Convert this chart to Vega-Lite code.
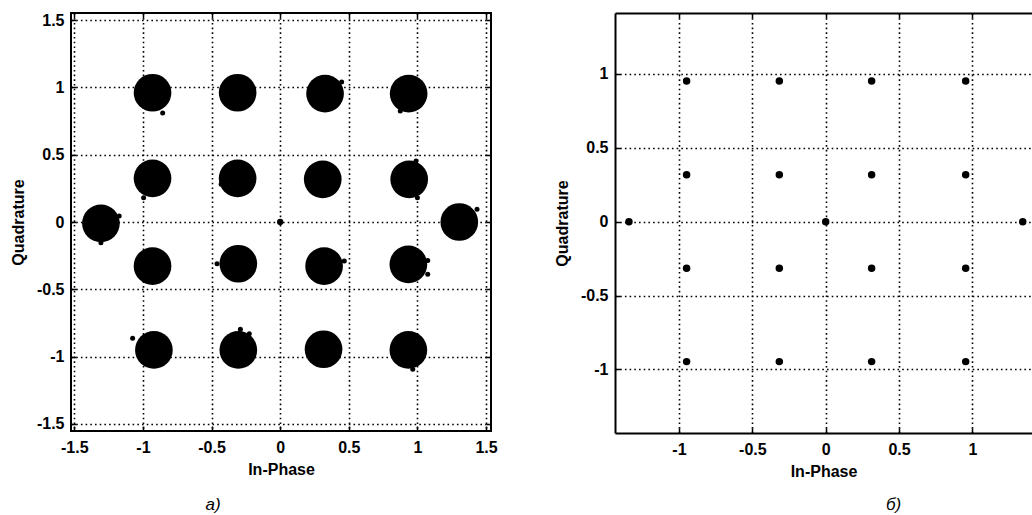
{
  "$schema": "https://vega.github.io/schema/vega-lite/v6.json",
  "padding": {"left": 9, "top": 11, "right": 0, "bottom": 0},
  "background": "white",
  "spacing": 55,
  "datasets": {
    "clusters": [
      {"i": -0.93, "q": 0.96}, {"i": -0.31, "q": 0.96}, {"i": 0.327, "q": 0.953}, {"i": 0.936, "q": 0.953},
      {"i": -0.93, "q": 0.324}, {"i": -0.31, "q": 0.324}, {"i": 0.31, "q": 0.317}, {"i": 0.94, "q": 0.317},
      {"i": -1.306, "q": -0.01}, {"i": 1.305, "q": 0.0},
      {"i": -0.93, "q": -0.327}, {"i": -0.305, "q": -0.31}, {"i": 0.32, "q": -0.327}, {"i": 0.934, "q": -0.315},
      {"i": -0.92, "q": -0.95}, {"i": -0.305, "q": -0.95}, {"i": 0.316, "q": -0.945}, {"i": 0.934, "q": -0.95}
    ],
    "strays": [
      {"i": -0.856, "q": 0.81}, {"i": 0.448, "q": 1.04}, {"i": 0.875, "q": 0.824},
      {"i": 0.99, "q": 0.453}, {"i": 1.0, "q": 0.18}, {"i": -0.995, "q": 0.18}, {"i": -0.43, "q": 0.28},
      {"i": -1.173, "q": 0.045}, {"i": -1.306, "q": -0.154}, {"i": 1.434, "q": 0.094},
      {"i": -0.46, "q": -0.31}, {"i": 1.075, "q": -0.388}, {"i": 1.075, "q": -0.285}, {"i": 0.467, "q": -0.29},
      {"i": -1.075, "q": -0.864}, {"i": -0.225, "q": -0.829}, {"i": -0.29, "q": -0.797}, {"i": 0.966, "q": -1.094}
    ],
    "centre": [
      {"i": 0.0, "q": 0.0}
    ],
    "ideal": [
      {"i": -0.948, "q": 0.952}, {"i": -0.316, "q": 0.952}, {"i": 0.313, "q": 0.952}, {"i": 0.954, "q": 0.952},
      {"i": -0.948, "q": 0.318}, {"i": -0.316, "q": 0.318}, {"i": 0.313, "q": 0.318}, {"i": 0.954, "q": 0.318},
      {"i": -0.948, "q": -0.315}, {"i": -0.316, "q": -0.315}, {"i": 0.313, "q": -0.315}, {"i": 0.954, "q": -0.315},
      {"i": -0.948, "q": -0.947}, {"i": -0.316, "q": -0.947}, {"i": 0.313, "q": -0.947}, {"i": 0.954, "q": -0.947}
    ],
    "extra": [
      {"i": -1.341, "q": 0.0}, {"i": 0.0, "q": 0.0}, {"i": 1.343, "q": 0.0}
    ]
  },
  "config": {
    "view": {"stroke": "#000", "strokeWidth": 2},
    "axis": {
      "labelFont": "Liberation Sans", "labelFontSize": 16, "labelFontWeight": "bold", "labelColor": "#000",
      "titleFont": "Liberation Sans", "titleFontSize": 16, "titleFontWeight": "bold", "titleColor": "#000",
      "gridColor": "#000", "gridDash": [1.6, 3.1], "gridWidth": 1.6, "gridOpacity": 1,
      "tickColor": "#000", "tickSize": -5, "tickWidth": 1.5,
      "domain": false, "labelFlush": false, "labelOverlap": false, "labelBound": false
    }
  },
  "hconcat": [
    {
      "width": 420,
      "height": 418,
      "title": {"text": "a)", "orient": "bottom", "anchor": "middle", "frame": "group", "dx": -68, "offset": 20, "font": "Liberation Sans", "fontSize": 17, "fontStyle": "italic", "fontWeight": "normal", "color": "#000"},
      "resolve": {"axis": {"x": "independent", "y": "independent"}},
      "layer": [
        {
          "data": {"name": "clusters"},
          "mark": {"type": "circle", "size": 1420, "color": "#000", "opacity": 1},
          "encoding": {
            "x": {"field": "i", "type": "quantitative", "scale": {"domain": [-1.524, 1.536], "nice": false, "zero": false},
              "axis": {"orient": "bottom", "values": [-1.5, -1, -0.5, 0, 0.5, 1, 1.5], "title": "In-Phase", "grid": true, "labelExpr": "'' + datum.value", "labelPadding": 13, "minExtent": 24, "maxExtent": 24, "titlePadding": 6}},
            "y": {"field": "q", "type": "quantitative", "scale": {"domain": [-1.552, 1.552], "nice": false, "zero": false},
              "axis": {"orient": "left", "values": [-1.5, -1, -0.5, 0, 0.5, 1, 1.5], "title": "Quadrature", "grid": true, "labelExpr": "'' + datum.value", "labelPadding": 12, "minExtent": 37, "maxExtent": 37, "titlePadding": 8}}
          }
        },
        {
          "data": {"name": "strays"},
          "mark": {"type": "circle", "size": 25, "color": "#000", "opacity": 1},
          "encoding": {
            "x": {"field": "i", "type": "quantitative", "scale": {"domain": [-1.524, 1.536], "nice": false, "zero": false},
              "axis": {"orient": "top", "values": [-1.5, -1, -0.5, 0, 0.5, 1, 1.5], "title": null, "labels": false, "grid": false, "minExtent": 0, "maxExtent": 0}},
            "y": {"field": "q", "type": "quantitative", "scale": {"domain": [-1.552, 1.552], "nice": false, "zero": false},
              "axis": {"orient": "right", "values": [-1.5, -1, -0.5, 0, 0.5, 1, 1.5], "title": null, "labels": false, "grid": false, "minExtent": 0, "maxExtent": 0}}
          }
        },
        {
          "data": {"name": "centre"},
          "mark": {"type": "circle", "size": 40, "color": "#000", "opacity": 1},
          "encoding": {
            "x": {"field": "i", "type": "quantitative", "axis": null},
            "y": {"field": "q", "type": "quantitative", "axis": null}
          }
        }
      ]
    },
    {
      "width": 417,
      "height": 420,
      "view": {"stroke": null},
      "title": {"text": "б)", "orient": "bottom", "anchor": "middle", "frame": "group", "dx": 70, "offset": 18, "font": "Liberation Sans", "fontSize": 17, "fontStyle": "italic", "fontWeight": "normal", "color": "#000"},
      "resolve": {"axis": {"x": "independent", "y": "independent"}},
      "layer": [
        {
          "data": {"name": "ideal"},
          "mark": {"type": "circle", "size": 56, "color": "#000", "opacity": 1},
          "encoding": {
            "x": {"field": "i", "type": "quantitative", "scale": {"domain": [-1.436, 1.406], "nice": false, "zero": false},
              "axis": {"orient": "bottom", "values": [-1, -0.5, 0, 0.5, 1], "title": "In-Phase", "grid": true, "domain": true, "domainColor": "#000", "domainWidth": 2, "labelExpr": "'' + datum.value", "labelPadding": 13, "minExtent": 24, "maxExtent": 24, "titlePadding": 6}},
            "y": {"field": "q", "type": "quantitative", "scale": {"domain": [-1.43, 1.412], "nice": false, "zero": false},
              "axis": {"orient": "left", "values": [-1, -0.5, 0, 0.5, 1], "title": "Quadrature", "grid": true, "domain": true, "domainColor": "#000", "domainWidth": 2, "labelExpr": "'' + datum.value", "labelPadding": 12, "minExtent": 37, "maxExtent": 37, "titlePadding": 8}}
          }
        },
        {
          "data": {"name": "extra"},
          "mark": {"type": "circle", "size": 56, "color": "#000", "opacity": 1},
          "encoding": {
            "x": {"field": "i", "type": "quantitative", "scale": {"domain": [-1.436, 1.406], "nice": false, "zero": false},
              "axis": {"orient": "top", "values": [-1, -0.5, 0, 0.5, 1], "title": null, "labels": false, "grid": false, "domain": true, "domainColor": "#000", "domainWidth": 2, "minExtent": 0, "maxExtent": 0}},
            "y": {"field": "q", "type": "quantitative", "scale": {"domain": [-1.43, 1.412], "nice": false, "zero": false}, "axis": null}
          }
        }
      ]
    }
  ]
}
